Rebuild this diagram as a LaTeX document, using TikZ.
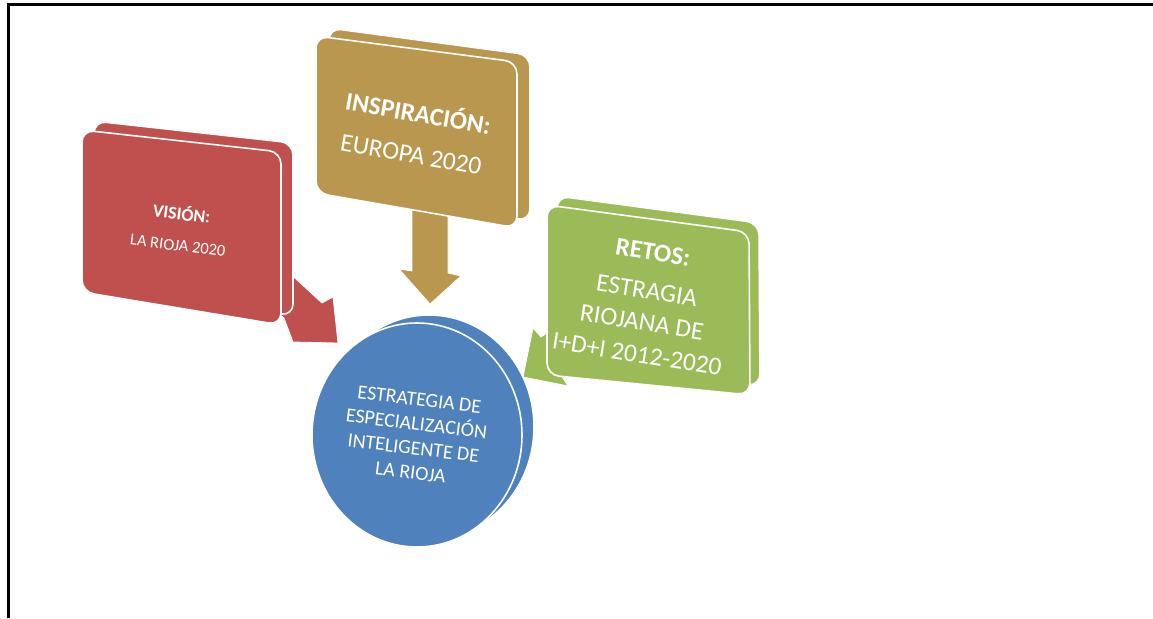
\documentclass[tikz,border=0pt]{standalone}
\usepackage{fontspec}
\setmainfont{Carlito}
\definecolor{cred}{HTML}{C0504D}
\definecolor{cgold}{HTML}{B9974F}
\definecolor{cgreen}{HTML}{9BBB59}
\definecolor{cblue}{HTML}{4F81BD}
\begin{document}
\begin{tikzpicture}[x=1pt,y=-1pt,
  face/.style={rounded corners=12pt, draw=white, line width=1.6pt},
  blockarrow/.style={draw=white, line width=0.8pt, line join=miter},
  boxtxt/.style={text=white, align=center, inner sep=0pt}]
\useasboundingbox (0,0) rectangle (1153,618);
% frame
\draw[line width=3pt] (8,618) -- (8,5) -- (1153,5);

% ---------- arrows (behind the boxes)
\fill[cred, blockarrow] (273,258) -- (322,303) -- (333,297) -- (338,343) -- (293,342) -- (284,318) -- (250,290) -- cycle;
\fill[cgold, blockarrow] (412,200) -- (412,271) -- (399,269) -- (430,304) -- (461,276) -- (448,273) -- (448,200) -- cycle;
\fill[cgreen, blockarrow] (594,302) -- (541,337) -- (533,328) -- (523,377) -- (568,386) -- (561,375) -- (615,336) -- cycle;

% ---------- red box
\filldraw[cred, face, draw=white] (94,121) -- (293,143) -- (293,316) -- (94,283) -- cycle;
\filldraw[cred, face, draw=white] (82,130) -- (281,152) -- (281,325) -- (82,292) -- cycle;
% ---------- gold box
\filldraw[cgold, face, draw=white] (329,28) -- (530,55) -- (530,221) -- (329,186) -- cycle;
\filldraw[cgold, face, draw=white] (316,36) -- (517,62) -- (517,228) -- (316,193) -- cycle;
% ---------- green box
\filldraw[cgreen, face, draw=white] (557,196) -- (759,223) -- (760,386) -- (557,366) -- cycle;
\filldraw[cgreen, face, draw=white] (547,205) -- (749,232) -- (750,395) -- (547,375) -- cycle;
% ---------- blue circle
\filldraw[cblue, draw=white, line width=1.6pt] (429,427) ellipse [x radius=105, y radius=112];
\filldraw[cblue, draw=white, line width=1.6pt] (417,435) ellipse [x radius=105, y radius=112];

% ---------- texts
\node[boxtxt, rotate=-7, font=\fontsize{16.5}{31}\selectfont] (vision) at (180,228)
  {{\fontsize{18}{31}\selectfont\bfseries VISIÓN:}\\LA RIOJA 2020};
\node[boxtxt, rotate=-10, font=\fontsize{25.5}{41}\selectfont] (inspir) at (415,132)
  {\textbf{INSPIRACIÓN:}\\EUROPA 2020};
\node[boxtxt, rotate=-9, font=\fontsize{25.5}{32}\selectfont] (retos) at (645,303)
  {\textbf{RETOS:}\\[7pt]ESTRAGIA\\RIOJANA DE\\I+D+I 2012-2020};
\node[boxtxt, rotate=-7, font=\fontsize{20}{24.5}\selectfont] (estr) at (415,436)
  {ESTRATEGIA DE\\ESPECIALIZACIÓN\\INTELIGENTE DE\\LA RIOJA};
\end{tikzpicture}
\end{document}
